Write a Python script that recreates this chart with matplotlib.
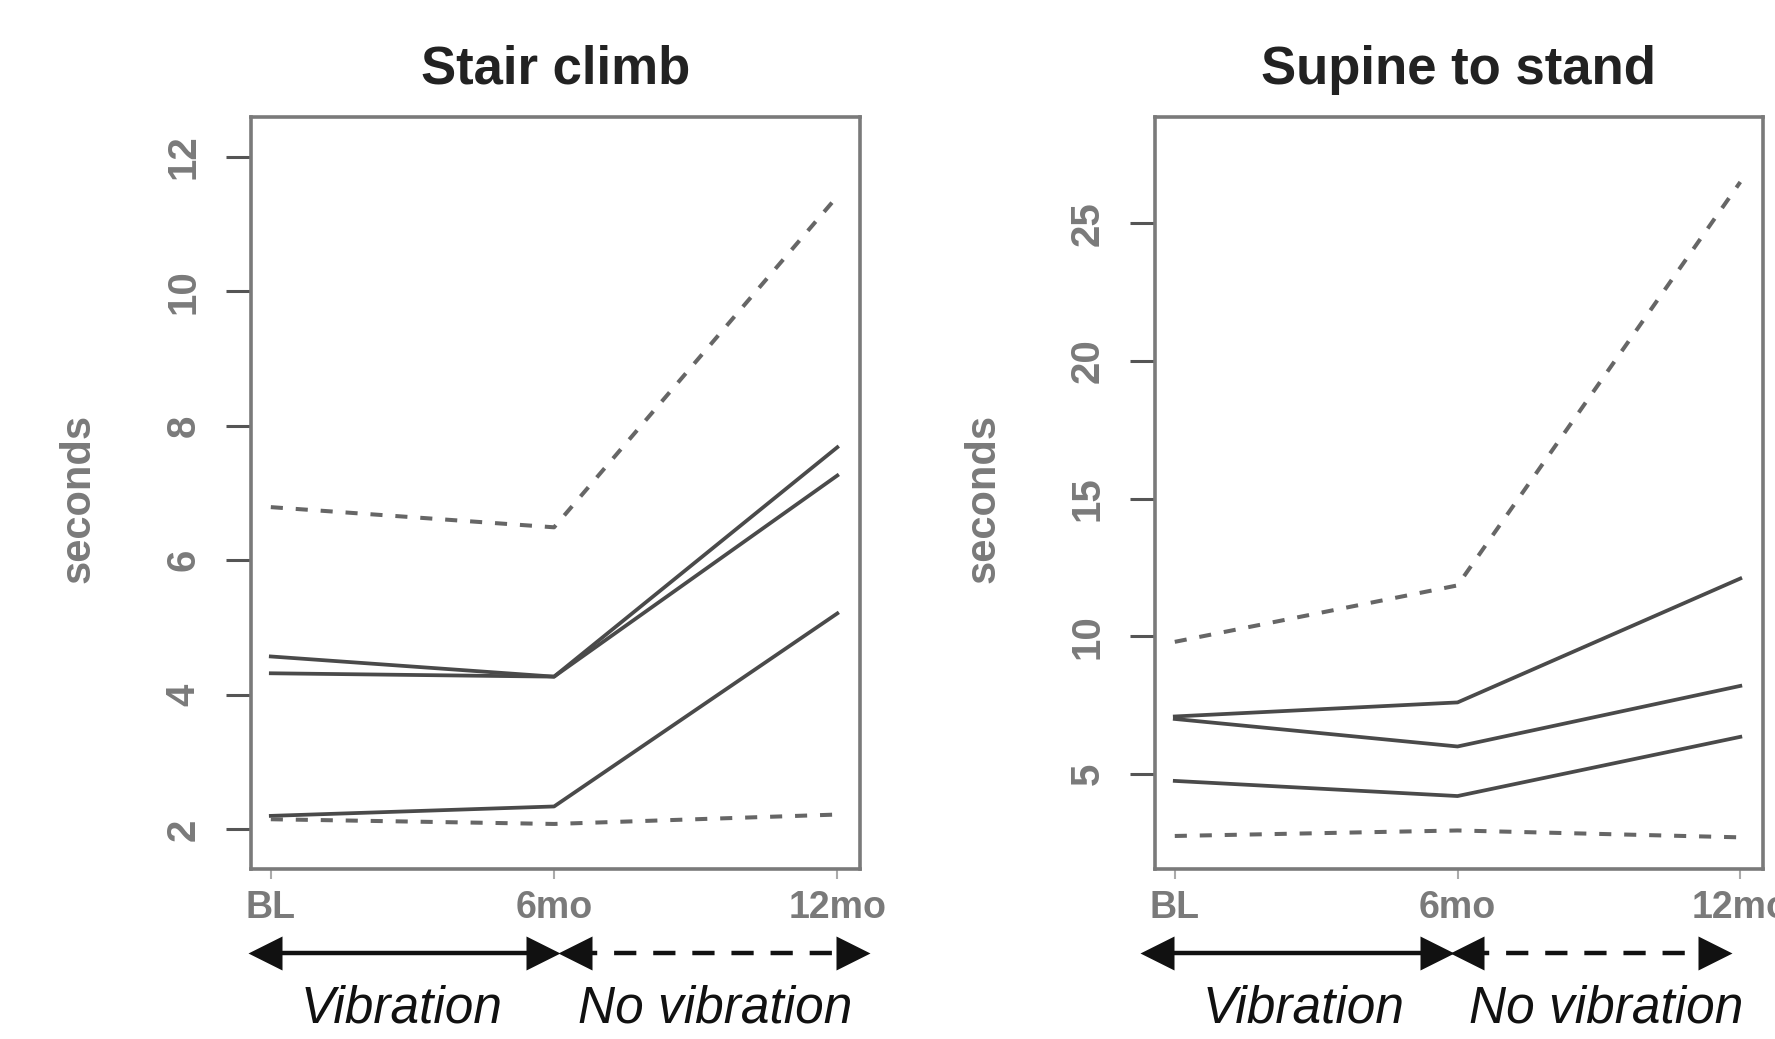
import numpy as np
import matplotlib
matplotlib.use("Agg")
import matplotlib.pyplot as plt
import matplotlib.transforms as mtransforms

plt.rcParams['font.family'] = ['Liberation Sans', 'DejaVu Sans']

timepoints = ["BL", "6mo", "12mo"]
x = [1, 2, 3]

# stair climb (seconds)
stair_solid = [
    [4.57, 4.27, 7.68],
    [4.32, 4.27, 7.26],
    [2.20, 2.34, 5.21],
]
stair_dashed = [
    [6.79, 6.49, 11.41],
    [2.15, 2.08, 2.22],
]

# supine to stand (seconds)
supine_solid = [
    [7.09, 7.60, 12.10],
    [7.00, 6.00, 8.20],
    [4.75, 4.20, 6.35],
]
supine_dashed = [
    [9.80, 11.85, 26.50],
    [2.75, 2.95, 2.70],
]

panels = [
    dict(title="Stair climb", solid=stair_solid, dashed=stair_dashed,
         yticks=[2, 4, 6, 8, 10, 12], ylim=(1.41, 12.59),
         rect=[0.1414, 0.1636, 0.3431, 0.7238],
         heads=[0.98, 1.96, 2.075, 3.055], texts=[1.46, 2.57]),
    dict(title="Supine to stand", solid=supine_solid, dashed=supine_dashed,
         yticks=[5, 10, 15, 20, 25], ylim=(1.55, 28.86),
         rect=[0.6507, 0.1636, 0.3425, 0.7238],
         heads=[0.936, 1.926, 2.035, 2.91], texts=[1.454, 2.525]),
]

fig = plt.figure(figsize=(17.75, 10.39), dpi=100)

solid_col = '#4a4a4a'
dash_col = '#666666'
frame_col = '#7a7a7a'
label_col = '#7a7a7a'

for p in panels:
    ax = fig.add_axes(p["rect"])
    for s in p["solid"]:
        ax.plot(x, s, color=solid_col, lw=2.7)
    for s in p["dashed"]:
        ax.plot(x, s, color=dash_col, lw=2.9, dashes=(3, 3.2))
    ax.set_xlim(0.93, 3.08)
    ax.set_ylim(*p["ylim"])
    ax.set_xticks(x)
    ax.set_xticklabels(timepoints, fontweight='bold')
    ax.set_yticks(p["yticks"])
    ax.set_yticklabels([str(v) for v in p["yticks"]], rotation=90, va='center',
                       fontweight='bold')
    for sp in ax.spines.values():
        sp.set_color(frame_col)
        sp.set_linewidth(2.6)
    ax.tick_params(axis='y', length=18, width=2.2, color='#555555',
                   labelsize=29, labelcolor=label_col, pad=17)
    ax.tick_params(axis='x', length=7, width=1.5, color='#aaaaaa',
                   labelsize=27, labelcolor=label_col, pad=8)
    ax.set_ylabel("seconds", fontsize=30, color=label_col, fontweight='bold')
    ax.yaxis.set_label_coords(-0.25, 0.493)
    ax.set_title(p["title"], fontsize=38, fontweight='bold', color='#222222', pad=24)

    # vibration / no vibration arrows below the axis
    trans = mtransforms.blended_transform_factory(ax.transData, ax.transAxes)
    h = p["heads"]
    ay = -0.112
    ax.plot([h[0], h[1]], [ay, ay], color='#111111', lw=3.2,
            transform=trans, clip_on=False, solid_capstyle='butt')
    ax.plot([h[2], h[3]], [ay, ay], color='#111111', lw=3.2, dashes=(5, 3.8),
            transform=trans, clip_on=False)
    for hx, m in zip(h, ['<', '>', '<', '>']):
        ax.plot([hx], [ay], marker=m, ms=24, color='#111111', mec='none',
                transform=trans, clip_on=False)
    ax.text(p["texts"][0], -0.186, "Vibration", transform=trans, ha='center',
            va='center', fontsize=37, style='italic', color='#111111')
    ax.text(p["texts"][1], -0.186, "No vibration", transform=trans, ha='center',
            va='center', fontsize=37, style='italic', color='#111111')

fig.savefig('out.png', dpi=100)
